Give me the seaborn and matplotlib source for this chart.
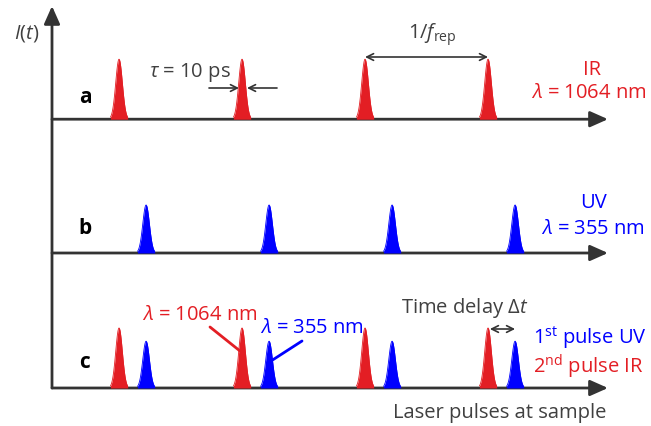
import numpy as np
import pandas as pd
import matplotlib
matplotlib.use('Agg')
import matplotlib.pyplot as plt
import seaborn as sns

# Pulse train data (time in units of the repetition period 1/f_rep)
ir_times = [0.545, 1.545, 2.545, 3.545]
uv_delay = 0.22
uv_times = [t + uv_delay for t in ir_times]
pulse_sigma = 0.027

# Peak intensities per row
ir_peak_a = 1.0
uv_peak_b = 0.8
ir_peak_c = 1.0
uv_peak_c = 0.78

# Baseline offset of each row
row_offsets = {'a': 4.48, 'b': 2.25, 'c': 0.0}
axis_end = 4.5

RED = '#e31e24'
BLUE = '#0000ff'
GRAY = '#404040'
AXIS = '#333333'

# pixel -> data helpers (figure is 651x427 px, axes fill it)
X0, PX_T = 52.0, 123.0
Y0, PX_I = 389.0, 60.0


def at(xp, yp):
    return ((xp - X0) / PX_T, (Y0 - yp) / PX_I)


sns.set_theme(style='white')
plt.rcParams['font.family'] = ['Open Sans', 'DejaVu Sans']
plt.rcParams['mathtext.fontset'] = 'custom'
plt.rcParams['mathtext.rm'] = 'Open Sans'
plt.rcParams['mathtext.it'] = 'Open Sans:italic'
plt.rcParams['mathtext.bf'] = 'Open Sans:bold'

fig = plt.figure(figsize=(6.51, 4.27), dpi=100)
ax = fig.add_axes([0, 0, 1, 1])
ax.set_xlim(at(0, 0)[0], at(651, 0)[0])
ax.set_ylim(at(0, 427)[1], at(0, 0)[1])
ax.axis('off')


def draw_pulse(t0, peak, base, color):
    t = np.linspace(t0 - 2.6 * pulse_sigma, t0 + 2.6 * pulse_sigma, 80)
    g = peak * np.exp(-0.5 * ((t - t0) / pulse_sigma) ** 2)
    df = pd.DataFrame({'t': t, 'I': base + g})
    ax.fill_between(df['t'], base, df['I'], color=color, lw=0, zorder=3)
    sns.lineplot(data=df, x='t', y='I', color=color, lw=0.6, ax=ax, zorder=3)


for t in ir_times:
    draw_pulse(t, ir_peak_a, row_offsets['a'], RED)
    draw_pulse(t, ir_peak_c, row_offsets['c'], RED)
for t in uv_times:
    draw_pulse(t, uv_peak_b, row_offsets['b'], BLUE)
    draw_pulse(t, uv_peak_c, row_offsets['c'], BLUE)

# axes arrows
big = dict(arrowstyle='-|>,head_length=0.9,head_width=0.4', lw=2.0,
           color=AXIS, shrinkA=0, shrinkB=0)
ax.annotate('', xy=(0, at(0, 7)[1]), xytext=(0, row_offsets['c']), arrowprops=big)
for key, base in row_offsets.items():
    ax.annotate('', xy=(axis_end + 0.02, base), xytext=(0, base), arrowprops=big, zorder=2)

small = dict(lw=1.2, color=AXIS, shrinkA=0, shrinkB=0,
             mutation_scale=12)
# tau arrows
ax.annotate('', xy=at(239, 89), xytext=at(209, 89), arrowprops=dict(arrowstyle='->', **small))
ax.annotate('', xy=at(247, 89), xytext=at(277, 89), arrowprops=dict(arrowstyle='->', **small))
# period arrow
ax.annotate('', xy=(ir_times[3], at(0, 58)[1]), xytext=(ir_times[2], at(0, 58)[1]),
            arrowprops=dict(arrowstyle='<->', **small))
# delay arrow
ax.annotate('', xy=(uv_times[3], at(0, 330)[1]), xytext=(ir_times[3] + 0.015, at(0, 330)[1]),
            arrowprops=dict(arrowstyle='<->', **small))

# pointer lines in row c
ax.plot(*zip(at(210, 328), at(240, 352)), color=RED, lw=2, zorder=4)
ax.plot(*zip(at(302, 342), at(271, 362)), color=BLUE, lw=2, zorder=4)

fs = 14.5
ax.text(*at(27, 33), r'$I(t)$', color=GRAY, fontsize=fs, ha='center', va='center')
ax.text(*at(190, 73), r'$\tau$ = 10 ps', color=GRAY, fontsize=fs, ha='center', va='center')
ax.text(*at(432, 35), r'1/$f_{\rm rep}$', color=GRAY, fontsize=fs, ha='center', va='center')
ax.text(*at(592, 70), 'IR', color=RED, fontsize=fs, ha='center', va='center')
ax.text(*at(589, 93), r'$\lambda$ = 1064 nm', color=RED, fontsize=fs, ha='center', va='center')
ax.text(*at(594, 203), 'UV', color=BLUE, fontsize=fs, ha='center', va='center')
ax.text(*at(593, 229), r'$\lambda$ = 355 nm', color=BLUE, fontsize=fs, ha='center', va='center')
ax.text(*at(200, 315), r'$\lambda$ = 1064 nm', color=RED, fontsize=fs, ha='center', va='center')
ax.text(*at(312, 328), r'$\lambda$ = 355 nm', color=BLUE, fontsize=fs, ha='center', va='center')
ax.text(*at(465, 308), r'Time delay $\Delta t$', color=GRAY, fontsize=fs, ha='center', va='center')
ax.text(*at(533, 338), r'1$^{\rm st}$ pulse UV', color=BLUE, fontsize=fs, ha='left', va='center')
ax.text(*at(533, 367), r'2$^{\rm nd}$ pulse IR', color=RED, fontsize=fs, ha='left', va='center')
ax.text(*at(500, 413), 'Laser pulses at sample', color=GRAY, fontsize=fs, ha='center', va='center')
for lab, yp in zip(['a', 'b', 'c'], [97, 228, 363]):
    ax.text(*at(85, yp), lab, color='black', fontsize=15, fontweight='bold',
            ha='center', va='center')

fig.savefig('out.png', dpi=100)
